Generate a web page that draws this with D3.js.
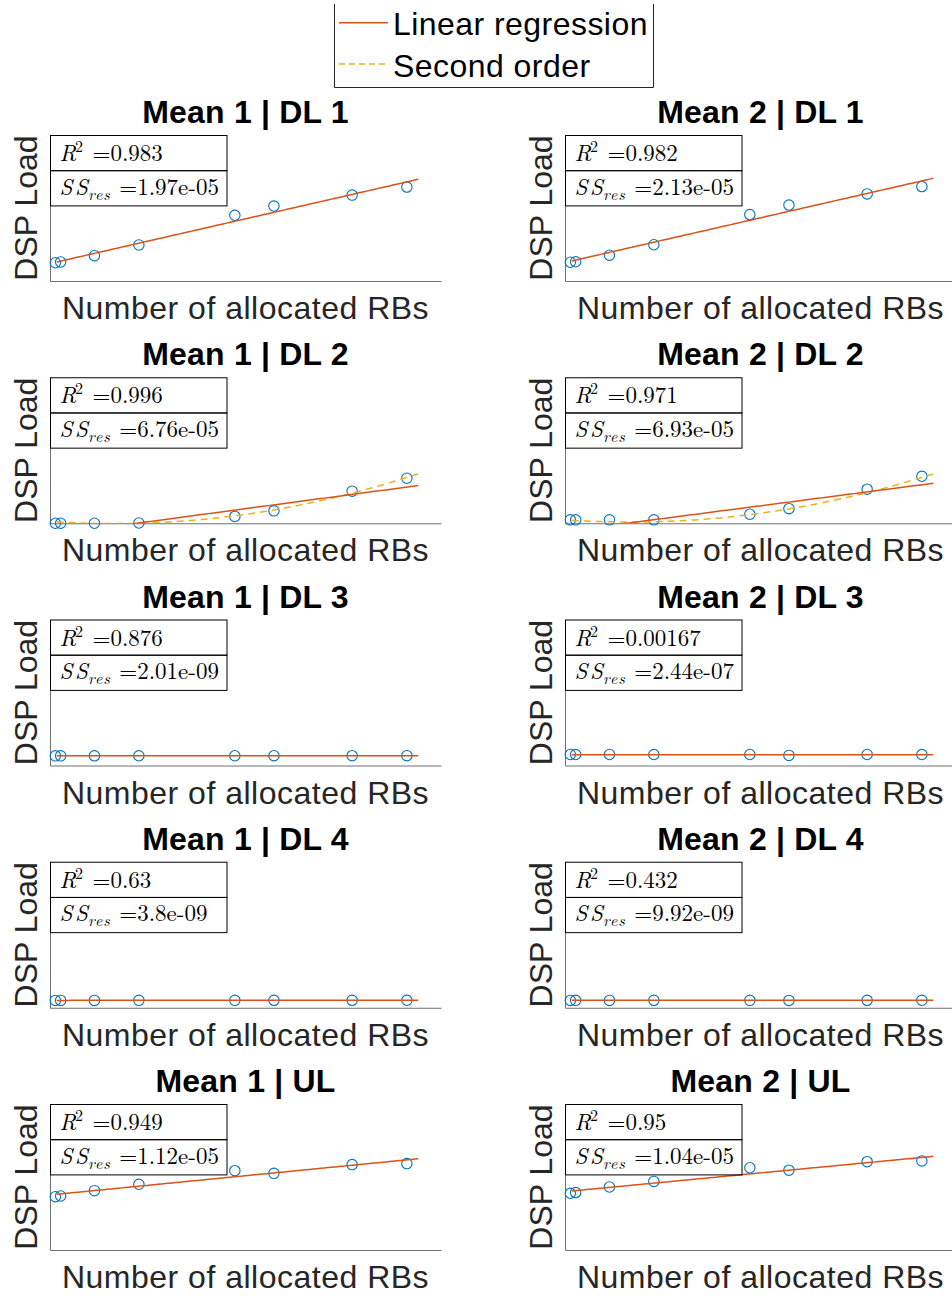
<!DOCTYPE html>
<html>
<head>
<meta charset="utf-8">
<script src="https://cdn.jsdelivr.net/npm/d3@7/dist/d3.min.js"></script>
<style>
  html, body { margin: 0; padding: 0; background: #fff; }
  svg { display: block; }
</style>
</head>
<body>
<svg id="fig" width="952" height="1296"></svg>
<script>
// Number of allocated RBs at each measurement
const allocatedRBs = [1.5, 3, 12.5, 25, 52, 63, 85, 100.4];
// x-range over which the fitted curves are evaluated
const fitRange = [1.9, 103.6];

// Measured DSP load per configuration
const mean1DL1 = [0.0075, 0.0078, 0.0104, 0.0148, 0.0270, 0.0308, 0.0353, 0.0386];
const mean2DL1 = [0.0077, 0.0079, 0.0106, 0.0149, 0.0273, 0.0312, 0.0358, 0.0388];
const mean1DL2 = [0.0000, 0.0000, 0.0000, 0.0001, 0.0028, 0.0051, 0.0132, 0.0185];
const mean2DL2 = [0.0014, 0.0014, 0.0014, 0.0014, 0.0037, 0.0060, 0.0140, 0.0193];
const mean1DL3 = [0.00396, 0.00397, 0.00398, 0.00399, 0.00401, 0.00402, 0.00404, 0.00405];
const mean2DL3 = [0.00452, 0.00450, 0.00452, 0.00451, 0.00453, 0.00415, 0.00452, 0.00451];
const mean1DL4 = [0.00302, 0.00303, 0.00303, 0.00304, 0.00304, 0.00305, 0.00305, 0.00306];
const mean2DL4 = [0.00303, 0.00304, 0.00303, 0.00305, 0.00304, 0.00303, 0.00305, 0.00306];
const mean1UL  = [0.0219, 0.0222, 0.0244, 0.0270, 0.0326, 0.0315, 0.0351, 0.0355];
const mean2UL  = [0.0233, 0.0236, 0.0259, 0.0282, 0.0338, 0.0328, 0.0363, 0.0366];

// Linear regression coefficients [intercept, slope] per panel
const linearFits = [
  [0.00718, 3.342e-4], [0.00759, 3.341e-4],
  [-0.004775, 1.957e-4], [-0.003309, 1.906e-4],
  [0.00399, 4e-7], [0.00446, -1e-7],
  [0.00303, 2e-7], [0.00304, 1e-7],
  [0.02263, 1.436e-4], [0.02398, 1.401e-4]
];
// Second order fit coefficients [c0, c1, c2] (DL 2 panels only)
const quadraticFits = [
  null, null,
  [0.000787, -1.014e-4, 2.796e-6], [0.001426, -1.0147e-4, 2.738e-6],
  null, null, null, null, null, null
];

// Panel titles and goodness-of-fit labels (row-major: left, right)
const panelTitles = ["Mean 1 | DL 1", "Mean 2 | DL 1", "Mean 1 | DL 2", "Mean 2 | DL 2",
                     "Mean 1 | DL 3", "Mean 2 | DL 3", "Mean 1 | DL 4", "Mean 2 | DL 4",
                     "Mean 1 | UL", "Mean 2 | UL"];
const r2Labels = ["0.983", "0.982", "0.996", "0.971", "0.876", "0.00167", "0.63", "0.432", "0.949", "0.95"];
const ssLabels = ["1.97e-05", "2.13e-05", "6.76e-05", "6.93e-05", "2.01e-09", "2.44e-07",
                  "3.8e-09", "9.92e-09", "1.12e-05", "1.04e-05"];
const panelSeries = [mean1DL1, mean2DL1, mean1DL2, mean2DL2, mean1DL3, mean2DL3,
                     mean1DL4, mean2DL4, mean1UL, mean2UL];

const legendLabels = ["Linear regression", "Second order"];
const xDomain = [0, 110];
const yDomain = [0, 0.06];

// Styling
const C_SCATTER = "#0072BD", C_LIN = "#D95319", C_QUAD = "#EDB120";
const C_AXIS = "#707070", C_LABEL = "#262626";
const SANS = "'Liberation Sans', Arial, Helvetica, sans-serif";
const SERIF = "'Latin Modern Roman', 'CMU Serif', 'Liberation Serif', 'Times New Roman', serif";

// Layout
const W = 391, H = 146;
const colLeft = [50, 565];
const rowTop = [135, 377.25, 619.5, 861.75, 1104];

const polyval = (c, x) => c.reduce((s, ci, i) => s + ci * Math.pow(x, i), 0);

const svg = d3.select("#fig");
const x = d3.scaleLinear().domain(xDomain).range([0, W]);
const y = d3.scaleLinear().domain(yDomain).range([H, 0]);
const line = d3.line().x(d => x(d[0])).y(d => y(d[1]));

// Legend
const leg = svg.append("g");
leg.append("rect").attr("x", 334.5).attr("y", 4.5).attr("width", 319).attr("height", 83)
  .attr("fill", "#fff").attr("stroke", "none");
leg.append("path").attr("d", "M334.5,4V87.5H653.5V4")
  .attr("fill", "none").attr("stroke", C_LABEL).attr("stroke-width", 1);
[[C_LIN, null, 22.7, 35], [C_QUAD, "6,4", 64, 77]].forEach((s, i) => {
  leg.append("line").attr("x1", 339).attr("x2", 388).attr("y1", s[2]).attr("y2", s[2])
    .attr("stroke", s[0]).attr("stroke-width", 1.5).attr("stroke-dasharray", s[1]);
  leg.append("text").attr("x", 393).attr("y", s[3]).text(legendLabels[i])
    .attr("font-family", SANS).attr("font-size", 32).attr("letter-spacing", 0.45)
    .attr("fill", "#000");
});

const fitX = d3.range(0, 101).map(i => fitRange[0] + (fitRange[1] - fitRange[0]) * i / 100);

d3.range(10).forEach(p => {
  const col = p % 2, row = Math.floor(p / 2);
  const ox = colLeft[col], oy = rowTop[row];
  const vals = panelSeries[p];
  const g = svg.append("g").attr("transform", `translate(${ox},${oy})`);

  // clip region for fitted curves
  const clipId = "clip" + p;
  g.append("clipPath").attr("id", clipId).append("rect")
    .attr("x", 0).attr("y", 0).attr("width", W).attr("height", H);

  // axes (left and bottom only, no ticks)
  const xa = g.append("g").attr("transform", `translate(0,${H})`)
    .call(d3.axisBottom(x).tickValues([]).tickSizeOuter(0));
  const ya = g.append("g").call(d3.axisLeft(y).tickValues([]).tickSizeOuter(0));
  [xa, ya].forEach(a => a.select(".domain").attr("stroke", C_AXIS).attr("stroke-width", 1));

  // measurements
  g.append("g").selectAll("circle").data(vals).join("circle")
    .attr("cx", (d, i) => x(allocatedRBs[i])).attr("cy", d => y(d)).attr("r", 5.2)
    .attr("fill", "none").attr("stroke", C_SCATTER).attr("stroke-width", 1.1);

  // fitted curves
  const curves = g.append("g").attr("clip-path", `url(#${clipId})`);
  if (quadraticFits[p]) {
    curves.append("path").datum(fitX.map(v => [v, polyval(quadraticFits[p], v)]))
      .attr("d", line).attr("fill", "none").attr("stroke", C_QUAD)
      .attr("stroke-width", 1.5).attr("stroke-dasharray", "7,5");
  }
  curves.append("path").datum(fitX.map(v => [v, polyval(linearFits[p], v)]))
    .attr("d", line).attr("fill", "none").attr("stroke", C_LIN).attr("stroke-width", 1.5);

  // title and axis labels
  g.append("text").attr("x", W / 2).attr("y", -12).attr("text-anchor", "middle")
    .attr("font-family", SANS).attr("font-weight", "bold").attr("font-size", 32)
    .attr("letter-spacing", 0.2).attr("fill", "#000").text(panelTitles[p]);
  g.append("text").attr("x", W / 2).attr("y", H + 38).attr("text-anchor", "middle")
    .attr("font-family", SANS).attr("font-size", 32).attr("letter-spacing", 0.5)
    .attr("fill", C_LABEL).text("Number of allocated RBs");
  g.append("text").attr("transform", `translate(-13,${H / 2}) rotate(-90)`)
    .attr("text-anchor", "middle").attr("font-family", SANS).attr("font-size", 32)
    .attr("fill", C_LABEL).text("DSP Load");

  // goodness-of-fit boxes
  const bw = 176.5, bh = 35.2;
  const box = g.append("g");
  box.append("rect").attr("x", 0.5).attr("y", 0.5).attr("width", bw).attr("height", bh)
    .attr("fill", "none").attr("stroke", "#000");
  box.append("rect").attr("x", 0.5).attr("y", 0.5 + bh).attr("width", bw).attr("height", bh)
    .attr("fill", "none").attr("stroke", "#000");

  const t1 = box.append("text").attr("y", 26).attr("font-family", SERIF).attr("font-size", 23).attr("fill", "#000");
  t1.append("tspan").attr("x", 9.5).attr("font-style", "italic").text("R");
  t1.append("tspan").attr("x", 25).attr("dy", -9).attr("font-size", 16).text("2");
  t1.append("tspan").attr("x", 42.5).attr("dy", 9).text("=" + r2Labels[p]);

  const t2 = box.append("text").attr("y", 59.5).attr("font-family", SERIF).attr("font-size", 23).attr("fill", "#000");
  t2.append("tspan").attr("x", 9.5).attr("font-style", "italic").attr("letter-spacing", 2.5).text("SS");
  t2.append("tspan").attr("x", 38).attr("dy", 5).attr("font-size", 16).attr("font-style", "italic")
    .attr("letter-spacing", 1).text("res");
  t2.append("tspan").attr("x", 69.3).attr("dy", -5).text("=" + ssLabels[p]);
});
</script>
</body>
</html>
